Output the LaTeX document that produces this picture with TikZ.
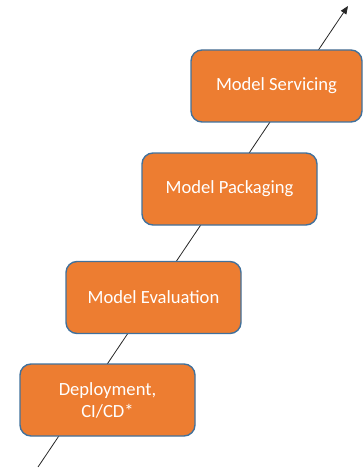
\documentclass[tikz,border=0pt]{standalone}
\usepackage{fontspec}
\setmainfont{Carlito}
\usetikzlibrary{arrows.meta}
\definecolor{stageorange}{HTML}{ED7D31}
\definecolor{stageedge}{HTML}{41719C}
\begin{document}
\begin{tikzpicture}[x=1pt,y=-1pt,
  stagebox/.style={draw=stageedge, line width=1.4pt, fill=stageorange,
    rounded corners=11pt, minimum width=175pt, minimum height=72pt,
    text=white, align=center, inner sep=0pt,
    font=\fontsize{18.6pt}{22pt}\selectfont},
  flow/.style={draw=black!85, line width=0.8pt, -{Triangle[length=8pt,width=6.5pt]}}]
  \useasboundingbox (0,0) rectangle (363,468);
  % the rising line runs behind all stages
  \coordinate (start) at (38,467);
  \coordinate (finish) at (348,6);
  \draw[flow] (start) -- (finish);
  % stages, bottom to top
  \node[stagebox] (deploy) at (107.5,400) {Deployment,\\CI/CD*};
  \node[stagebox] (eval) at (153.5,297.5) {Model Evaluation};
  \node[stagebox] (pack) at (229.5,189) {Model Packaging};
  \node[stagebox, minimum width=171pt] (serve) at (276.5,86) {Model Servicing};
\end{tikzpicture}
\end{document}
